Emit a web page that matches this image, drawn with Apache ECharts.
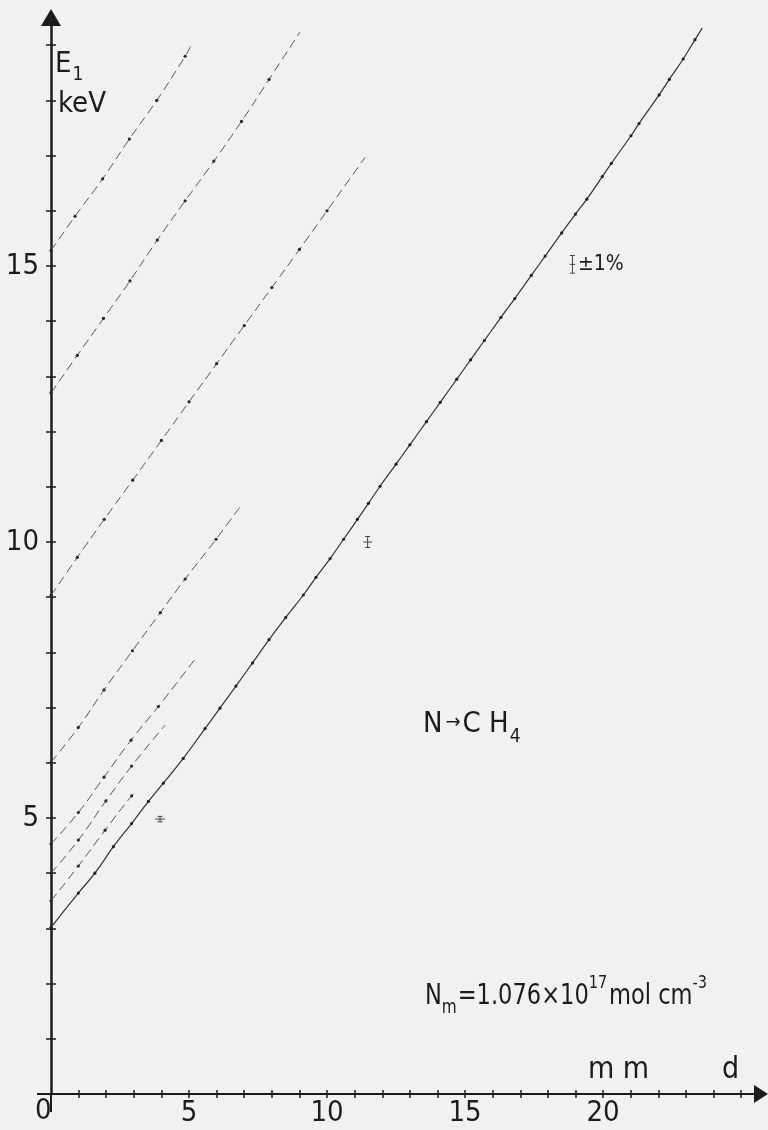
<!DOCTYPE html>
<html><head><meta charset="utf-8">
<script src="https://cdn.jsdelivr.net/npm/echarts@6/dist/echarts.min.js"></script>
<style>html,body{margin:0;padding:0;background:#f1f1f1}#c{width:768px;height:1130px}</style>
</head><body><div id="c"></div>
<script>
// ---- data (d in mm, E1 in keV) ----
const mainD = [0, 0.99, 1.59, 2.26, 2.92, 3.53, 4.07, 4.79, 5.58, 6.12, 6.7, 7.3, 7.9, 8.5, 9.14, 9.6, 10.11, 10.6, 11.1, 11.5, 11.92, 12.5, 13.0, 13.6, 14.1, 14.7, 15.2, 15.7, 16.3, 16.8, 17.4, 17.9, 18.5, 19.0, 19.41, 19.97, 20.3, 21.01, 21.3, 22.03, 22.4, 22.9, 23.33, 23.59];
const mainE = [3.02, 3.64, 4.0, 4.48, 4.90, 5.30, 5.63, 6.08, 6.62, 6.99, 7.39, 7.81, 8.23, 8.63, 9.04, 9.36, 9.70, 10.05, 10.41, 10.70, 11.01, 11.41, 11.76, 12.18, 12.53, 12.95, 13.30, 13.65, 14.07, 14.41, 14.83, 15.18, 15.60, 15.94, 16.21, 16.62, 16.86, 17.36, 17.58, 18.10, 18.38, 18.75, 19.10, 19.31];

const lineA_D = [0, 0.87, 1.87, 2.84, 3.83, 4.86, 5.06];
const lineA_E = [15.28, 15.90, 16.58, 17.30, 18.00, 18.80, 18.98];
const lineB_D = [0, 0.95, 1.90, 2.86, 3.85, 4.86, 5.90, 6.90, 7.90, 9.02];
const lineB_E = [12.70, 13.38, 14.05, 14.73, 15.47, 16.18, 16.90, 17.62, 18.38, 19.24];
const lineC_D = [0, 0.95, 1.93, 2.96, 4.0, 5.0, 6.0, 7.0, 8.0, 9.0, 10.0, 11.38];
const lineC_E = [9.03, 9.72, 10.41, 11.12, 11.84, 12.54, 13.23, 13.92, 14.61, 15.30, 16.00, 16.97];
const lineD_D = [0, 0.99, 1.92, 2.95, 3.96, 4.86, 5.98, 6.85];
const lineD_E = [6.01, 6.64, 7.32, 8.03, 8.72, 9.33, 10.05, 10.64];
const lineE_D = [0, 0.99, 1.92, 2.90, 3.89, 5.28];
const lineE_E = [4.53, 5.10, 5.74, 6.41, 7.02, 7.92];
const lineF_D = [0, 0.99, 1.99, 2.92, 4.13];
const lineF_E = [4.00, 4.60, 5.31, 5.94, 6.68];
const lineG_D = [0, 0.99, 1.96, 2.92, 3.10];
const lineG_E = [3.50, 4.13, 4.78, 5.40, 5.48];

// error bars: centre x, centre y, half width (mm), half height (keV)
const errX  = [3.95, 11.47, 18.89];
const errY  = [4.98, 10.00, 15.03];
const errDX = [0.18, 0.16, 0.10];
const errDY = [0.05, 0.10, 0.16];

const xTicks  = [1,2,3,4,5,6,7,8,9,10,11,12,13,14,15,16,17,18,19,20,21,22,23,24,25];
const xLabels = [5, 10, 15, 20];
const yTicks  = [1,2,3,4,5,6,7,8,9,10,11,12,13,14,15,16,17,18,19];
const yLabels = [5, 10, 15];

// ---- chart ----
const FONT = "'Liberation Sans Narrow','DejaVu Sans Condensed','Liberation Sans',sans-serif";
const INK = '#1c1c1c';
const zip = (a, b) => a.map((v, i) => [v, b[i]]);
const endless = n => (v, p) => (p.dataIndex === n - 1 ? 0 : 3.2);

function dashed(name, d, e) {
  return {
    name, type: 'line', data: zip(d, e), smooth: true,
    symbol: 'circle', symbolSize: endless(d.length), showSymbol: true,
    itemStyle: { color: '#2a2a2a' },
    lineStyle: { color: '#555', width: 1, type: [9, 5] },
    silent: true, animation: false, z: 3
  };
}

const txt = (x, y, text, size, sx) => ({
  type: 'text', x, y, silent: true, scaleX: sx || 1,
  style: { text, fontSize: size, fontFamily: FONT, fill: INK }
});

// lay out a run of text pieces [text, size, dy, gapAfter] left to right
const mctx = document.createElement('canvas').getContext('2d');
function measure(t, s) { mctx.font = s + 'px ' + FONT; return mctx.measureText(t).width; }
function run(x, y, pieces, targetWidth) {
  let k = 1;
  if (targetWidth) {
    let w = 0; pieces.forEach(p => { w += measure(p[0], p[1]) + (p[3] || 0); });
    k = Math.min(1.1, targetWidth / w);
  }
  const out = []; let cx = x;
  pieces.forEach(p => {
    out.push(txt(cx, y + p[2], p[0], p[1], k));
    cx += (measure(p[0], p[1]) + (p[3] || 0)) * k;
  });
  return out;
}

const chart = echarts.init(document.getElementById('c'), null, { renderer: 'canvas' });

chart.setOption({
  backgroundColor: '#f1f1f1',
  animation: false,
  grid: { left: 51, right: 7, top: 17.6, bottom: 36, containLabel: false },
  xAxis: [{
    type: 'value', min: 0, max: 25.72, position: 'bottom',
    axisLine: { show: true, onZero: false, symbol: ['none', 'triangle'], symbolSize: [18, 14],
      lineStyle: { color: INK, width: 2 } },
    axisTick: { show: true, length: 4, customValues: xTicks, lineStyle: { color: INK, width: 1.5 } },
    axisLabel: { show: true, customValues: xLabels, fontSize: 29, fontFamily: FONT, color: INK, margin: 5 },
    splitLine: { show: false }
  }, {
    type: 'value', min: 0, max: 25.72, position: 'bottom',
    axisLine: { show: false },
    axisTick: { show: true, inside: true, length: 4, customValues: xTicks, lineStyle: { color: INK, width: 1.5 } },
    axisLabel: { show: false }, splitLine: { show: false }
  }],
  yAxis: [{
    type: 'value', min: 0, max: 19.5, position: 'left',
    axisLine: { show: true, onZero: false, symbol: ['none', 'triangle'], symbolSize: [20, 17],
      lineStyle: { color: INK, width: 2.5 } },
    axisTick: { show: true, length: 5, customValues: yTicks, lineStyle: { color: INK, width: 1.5 } },
    axisLabel: { show: true, customValues: yLabels, fontSize: 29, fontFamily: FONT, color: INK, margin: 12 },
    splitLine: { show: false }
  }, {
    type: 'value', min: 0, max: 19.5, position: 'left',
    axisLine: { show: false },
    axisTick: { show: true, inside: true, length: 5, customValues: yTicks, lineStyle: { color: INK, width: 1.5 } },
    axisLabel: { show: false }, splitLine: { show: false }
  }],
  series: [
    {
      name: 'main', type: 'line', data: zip(mainD, mainE), smooth: true,
      symbol: 'circle', symbolSize: endless(mainD.length), showSymbol: true,
      itemStyle: { color: '#222' }, lineStyle: { color: '#333', width: 1.2 },
      silent: true, z: 4
    },
    dashed('A', lineA_D, lineA_E),
    dashed('B', lineB_D, lineB_E),
    dashed('C', lineC_D, lineC_E),
    dashed('D', lineD_D, lineD_E),
    dashed('E', lineE_D, lineE_E),
    dashed('F', lineF_D, lineF_E),
    dashed('G', lineG_D, lineG_E),
    {
      name: 'errors', type: 'custom', silent: true, z: 5,
      data: errX.map((x, i) => [x, errY[i], errDX[i], errDY[i]]),
      renderItem: function (params, api) {
        const x = api.value(0), y = api.value(1), dx = api.value(2), dy = api.value(3);
        const l = api.coord([x - dx, y]), r = api.coord([x + dx, y]);
        const t = api.coord([x, y + dy]), b = api.coord([x, y - dy]);
        const st = { stroke: '#444', lineWidth: 1 };
        const cap = 2.5;
        return {
          type: 'group', children: [
            { type: 'line', shape: { x1: l[0], y1: l[1], x2: r[0], y2: r[1] }, style: st },
            { type: 'line', shape: { x1: t[0], y1: t[1], x2: b[0], y2: b[1] }, style: st },
            { type: 'line', shape: { x1: t[0] - cap, y1: t[1], x2: t[0] + cap, y2: t[1] }, style: st },
            { type: 'line', shape: { x1: b[0] - cap, y1: b[1], x2: b[0] + cap, y2: b[1] }, style: st }
          ]
        };
      }
    }
  ],
  graphic: [
    { type: 'line', silent: true, shape: { x1: 51, y1: 1094, x2: 51, y2: 1112 }, style: { stroke: INK, lineWidth: 2 } },
    { type: 'line', silent: true, shape: { x1: 37, y1: 1094, x2: 51, y2: 1094 }, style: { stroke: INK, lineWidth: 2 } },
    txt(35, 1097, '0', 29),
    ...run(55, 50, [['E', 29, 0, 1], ['1', 19, 16, 0]]),
    txt(58, 90, 'keV', 29),
    ...run(423, 710, [['N', 29, 0, 3], ['→', 20, 3, 2], ['C H', 29, 0, 1], ['4', 19, 18, 0]]),
    txt(578, 254, '±1%', 21),
    txt(588, 1055, 'm m', 30),
    txt(722, 1055, 'd', 30),
    ...run(425, 983, [['N', 28, 0, 0], ['m', 19, 16, 1], ['=1.076×10', 28, 0, 0], ['17', 18, -9, 2],
                       ['mol cm', 28, 0, 0], ['-3', 18, -9, 0]], 282)
  ]
});
</script></body></html>
